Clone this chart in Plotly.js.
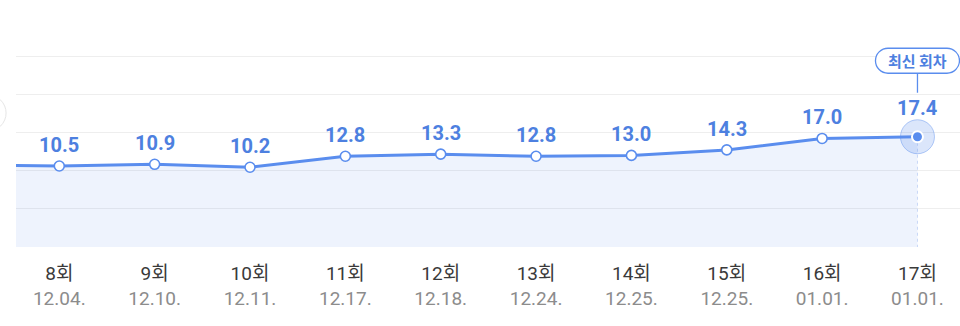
<!DOCTYPE html>
<html>
<head>
<meta charset="utf-8">
<script src="https://cdn.plot.ly/plotly-3.0.1.min.js"></script>
<style>
  html, body { margin: 0; padding: 0; background: #ffffff; }
  #chart { width: 960px; height: 326px; }
</style>
</head>
<body>
<div id="chart"></div>
<script>
// ---- data ----
const episodes = ['8회', '9회', '10회', '11회', '12회', '13회', '14회', '15회', '16회', '17회'];
const dates = ['12.04.', '12.10.', '12.11.', '12.17.', '12.18.', '12.24.', '12.25.', '12.25.', '01.01.', '01.01.'];
const values = [10.5, 10.9, 10.2, 12.8, 13.3, 12.8, 13.0, 14.3, 17.0, 17.4];
const prevEpisodeValue = 10.8;   // 7회, only its segment is visible at the left edge
const badgeText = '최신 회차';

// ---- styling ----
const BLUE = '#5a8dee';
const LABEL_BLUE = '#4d80e0';
const FILL = 'rgba(90,141,238,0.10)';
const Y_RANGE = [-8.6, 45.4];
const FONT = "Roboto, 'Noto Sans CJK KR', sans-serif";

const xs = values.map((_, i) => i);
const lastX = xs[xs.length - 1];
const lastY = values[values.length - 1];
const lineX = [-1].concat(xs);
const lineY = [prevEpisodeValue].concat(values);

const traces = [
  { // baseline for area fill (axis bottom)
    x: lineX, y: lineX.map(() => Y_RANGE[0]),
    mode: 'lines', line: { width: 0, color: 'rgba(0,0,0,0)' },
    hoverinfo: 'skip', showlegend: false
  },
  { // area + line
    x: lineX, y: lineY,
    mode: 'lines', fill: 'tonexty', fillcolor: FILL,
    line: { color: BLUE, width: 3 },
    hoverinfo: 'skip', showlegend: false
  },
  { // dashed drop line at latest
    x: [lastX, lastX], y: [lastY, Y_RANGE[0]],
    mode: 'lines', line: { color: '#c9d8f7', width: 1, dash: '3px,3px' },
    hoverinfo: 'skip', showlegend: false
  },
  { // normal markers
    x: xs.slice(0, -1), y: values.slice(0, -1),
    mode: 'markers',
    marker: { size: 10, color: '#ffffff', line: { color: BLUE, width: 1.6 } },
    hoverinfo: 'skip', showlegend: false
  },
  { // halo for latest
    x: [lastX], y: [lastY],
    mode: 'markers',
    marker: { size: 34, color: 'rgba(90,141,238,0.22)', line: { color: 'rgba(90,141,238,0.45)', width: 1 } },
    hoverinfo: 'skip', showlegend: false
  },
  { // latest dot
    x: [lastX], y: [lastY],
    mode: 'markers',
    marker: { size: 11, color: BLUE, line: { color: '#ffffff', width: 2 } },
    hoverinfo: 'skip', showlegend: false
  }
];

const annotations = values.map((v, i) => ({
  x: i, y: v, xref: 'x', yref: 'y',
  text: v.toFixed(1), showarrow: false,
  yshift: i === values.length - 1 ? 29 : 21,
  font: { family: FONT, size: 20, color: LABEL_BLUE, weight: 700 }
}));
annotations.push({
  x: lastX, y: lastY, xref: 'x', yref: 'y',
  text: badgeText, showarrow: false, yshift: 76,
  font: { family: "'Noto Sans CJK KR', sans-serif", size: 15, color: LABEL_BLUE, weight: 700 }
});

// rounded pill badge (pixel offsets relative to latest point)
const w = 42, h = 12.5, r = 12.5, cy = 76, k = 0.5523;
const yb = cy - h, yt = cy + h;
const pill = [
  `M ${-w + r},${yb}`, `L ${w - r},${yb}`,
  `C ${w - r + k * r},${yb} ${w},${cy - k * r} ${w},${cy}`,
  `C ${w},${cy + k * r} ${w - r + k * r},${yt} ${w - r},${yt}`,
  `L ${-w + r},${yt}`,
  `C ${-w + r - k * r},${yt} ${-w},${cy + k * r} ${-w},${cy}`,
  `C ${-w},${cy - k * r} ${-w + r - k * r},${yb} ${-w + r},${yb}`, 'Z'
].join(' ');

const shapes = [
  {
    type: 'path', xref: 'x', yref: 'y', xsizemode: 'pixel', ysizemode: 'pixel',
    xanchor: lastX, yanchor: lastY, path: pill,
    line: { color: BLUE, width: 1.3 }, fillcolor: '#ffffff', layer: 'above'
  },
  {
    type: 'line', xref: 'x', yref: 'y', xsizemode: 'pixel', ysizemode: 'pixel',
    xanchor: lastX, yanchor: lastY, x0: 0, x1: 0, y0: 44, y1: yb,
    line: { color: BLUE, width: 1.3 }, layer: 'above'
  },
  { // partial round button at far left edge
    type: 'circle', xref: 'paper', yref: 'paper',
    x0: -0.05, x1: -0.0105, y0: 0.505, y1: 0.665,
    line: { color: '#e6e6e6', width: 1 }, fillcolor: '#ffffff', layer: 'above'
  }
];

const layout = {
  width: 960, height: 326,
  margin: { l: 16, r: 0, t: 18, b: 79, pad: 0 },
  paper_bgcolor: '#ffffff', plot_bgcolor: '#ffffff',
  showlegend: false,
  font: { family: FONT },
  xaxis: {
    range: [-0.454, 9.446], fixedrange: true,
    tickmode: 'array', tickvals: xs,
    ticktext: episodes.map((e, i) => `${e}<br><span style="color:#8c8c8c">${dates[i]}</span>`),
    tickfont: { family: FONT, size: 19, color: '#3a3a3a' },
    ticklabelstandoff: 13,
    showgrid: false, zeroline: false, showline: false, ticks: ''
  },
  yaxis: {
    range: Y_RANGE, fixedrange: true,
    tick0: Y_RANGE[0], dtick: 9, showticklabels: false,
    showgrid: true, gridcolor: '#eeeeee', gridwidth: 1,
    zeroline: false, showline: false, ticks: ''
  },
  annotations: annotations,
  shapes: shapes
};

Plotly.newPlot('chart', traces, layout, { displayModeBar: false, staticPlot: true });
</script>
</body>
</html>
